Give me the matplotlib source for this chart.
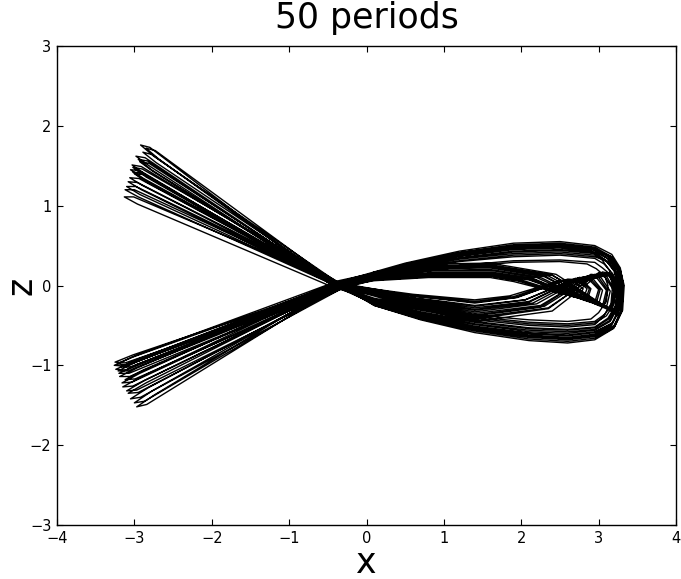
import matplotlib
matplotlib.use('Agg')
import matplotlib.pyplot as plt
import numpy as np

# ----------------------------------------------------------------------------------------------------------------------
# trajectory in the (x, z) plane, one list pair per period
# each period: crossing -> outer lower arc -> right end -> outer upper arc -> crossing -> lower-left tip
#              -> crossing -> twisted inner loop -> crossing -> upper-left tip
# ----------------------------------------------------------------------------------------------------------------------

x_p01 = [-0.37, 0.10, 0.70, 1.40, 2.10, 2.60, 2.95, 3.18, 3.28, 3.30, 3.26, 3.15, 2.95, 2.50, 1.90, 1.20, 0.50, -0.33, -2.95, -3.18, -3.05, -0.40, 0.10, 0.80, 1.60, 2.15, 2.80, 3.05, 3.10, 2.98, 2.75, 2.10, 1.40, 0.60, -0.42, -2.85, -3.02, -2.90]
z_p01 = [0.00, -0.22, -0.37, -0.51, -0.60, -0.62, -0.58, -0.47, -0.28, 0.00, 0.20, 0.35, 0.45, 0.50, 0.48, 0.39, 0.25, 0.03, -0.92, -1.02, -1.02, -0.04, 0.10, 0.16, 0.17, 0.09, -0.18, -0.26, -0.06, 0.09, 0.10, -0.21, -0.30, -0.18, 0.02, 1.36, 1.48, 1.46]

x_p02 = [-0.34, 0.10, 0.70, 1.40, 2.10, 2.60, 2.95, 3.20, 3.30, 3.32, 3.28, 3.17, 2.95, 2.50, 1.90, 1.20, 0.50, -0.30, -2.74, -2.97, -2.84, -0.37, 0.10, 0.80, 1.60, 2.40, 3.05, 3.20, 3.25, 3.13, 3.00, 2.35, 1.40, 0.60, -0.39, -2.75, -2.92, -2.80]
z_p02 = [0.03, -0.25, -0.42, -0.57, -0.67, -0.70, -0.66, -0.53, -0.32, 0.00, 0.22, 0.39, 0.50, 0.55, 0.53, 0.43, 0.28, 0.06, -1.37, -1.52, -1.49, -0.01, 0.15, 0.24, 0.25, 0.13, -0.24, -0.34, -0.08, 0.13, 0.15, -0.28, -0.40, -0.24, 0.05, 1.62, 1.76, 1.73]

x_p03 = [-0.41, 0.10, 0.70, 1.40, 2.10, 2.60, 2.95, 3.08, 3.18, 3.20, 3.16, 3.05, 2.95, 2.50, 1.90, 1.20, 0.50, -0.37, -3.02, -3.25, -3.12, -0.44, 0.10, 0.80, 1.60, 1.95, 2.60, 2.80, 2.85, 2.73, 2.55, 1.90, 1.40, 0.60, -0.46, -2.96, -3.13, -3.01]
z_p03 = [-0.03, -0.17, -0.29, -0.39, -0.46, -0.48, -0.45, -0.36, -0.22, 0.00, 0.13, 0.22, 0.29, 0.32, 0.31, 0.25, 0.16, 0.00, -0.87, -0.96, -0.97, -0.07, 0.07, 0.11, 0.12, 0.06, -0.12, -0.17, -0.04, 0.06, 0.07, -0.14, -0.20, -0.12, -0.01, 1.02, 1.11, 1.11]

x_p04 = [-0.36, 0.10, 0.70, 1.40, 2.10, 2.60, 2.95, 3.16, 3.26, 3.28, 3.24, 3.13, 2.95, 2.50, 1.90, 1.20, 0.50, -0.32, -2.92, -3.15, -3.02, -0.39, 0.10, 0.80, 1.60, 2.30, 2.95, 3.15, 3.20, 3.08, 2.90, 2.25, 1.40, 0.60, -0.41, -2.72, -2.89, -2.77]
z_p04 = [0.02, -0.23, -0.40, -0.54, -0.63, -0.66, -0.62, -0.50, -0.30, 0.00, 0.21, 0.36, 0.47, 0.52, 0.50, 0.41, 0.26, 0.05, -1.15, -1.27, -1.26, -0.02, 0.13, 0.21, 0.22, 0.11, -0.21, -0.30, -0.07, 0.11, 0.13, -0.25, -0.35, -0.21, 0.04, 1.54, 1.67, 1.64]

x_p05 = [-0.39, 0.10, 0.70, 1.40, 2.10, 2.60, 2.95, 3.13, 3.23, 3.25, 3.21, 3.10, 2.95, 2.50, 1.90, 1.20, 0.50, -0.35, -2.97, -3.20, -3.07, -0.42, 0.10, 0.80, 1.60, 2.10, 2.75, 2.95, 3.00, 2.88, 2.70, 2.05, 1.40, 0.60, -0.44, -2.86, -3.03, -2.91]
z_p05 = [-0.01, -0.20, -0.34, -0.46, -0.54, -0.56, -0.53, -0.42, -0.25, 0.00, 0.18, 0.31, 0.40, 0.44, 0.42, 0.34, 0.22, 0.02, -0.99, -1.10, -1.10, -0.05, 0.08, 0.13, 0.14, 0.07, -0.15, -0.21, -0.05, 0.07, 0.08, -0.18, -0.25, -0.15, 0.01, 1.39, 1.51, 1.49]

x_p06 = [-0.33, 0.10, 0.70, 1.40, 2.10, 2.60, 2.95, 3.21, 3.31, 3.33, 3.29, 3.18, 2.95, 2.50, 1.90, 1.20, 0.50, -0.29, -2.82, -3.05, -2.92, -0.36, 0.10, 0.80, 1.60, 2.45, 3.10, 3.25, 3.30, 3.18, 3.05, 2.40, 1.40, 0.60, -0.38, -2.93, -3.10, -2.98]
z_p06 = [-0.02, -0.24, -0.41, -0.56, -0.65, -0.68, -0.64, -0.51, -0.31, 0.00, 0.16, 0.28, 0.36, 0.40, 0.38, 0.31, 0.20, 0.01, -1.28, -1.42, -1.40, -0.06, 0.17, 0.27, 0.28, 0.14, -0.27, -0.38, -0.09, 0.14, 0.17, -0.32, -0.45, -0.27, 0.00, 1.14, 1.24, 1.24]

x_p07 = [-0.40, 0.10, 0.70, 1.40, 2.10, 2.60, 2.95, 3.06, 3.16, 3.18, 3.14, 3.03, 2.90, 2.50, 1.90, 1.20, 0.50, -0.36, -2.99, -3.22, -3.09, -0.43, 0.10, 0.80, 1.60, 2.00, 2.65, 2.85, 2.90, 2.78, 2.60, 1.95, 1.40, 0.60, -0.45, -2.83, -3.00, -2.88]
z_p07 = [0.03, -0.18, -0.31, -0.43, -0.50, -0.52, -0.49, -0.39, -0.23, 0.00, 0.19, 0.34, 0.43, 0.48, 0.46, 0.37, 0.24, 0.06, -0.88, -0.98, -1.00, -0.01, 0.08, 0.12, 0.13, 0.07, -0.13, -0.19, -0.04, 0.07, 0.08, -0.15, -0.22, -0.13, 0.05, 1.29, 1.40, 1.39]

x_p08 = [-0.37, 0.10, 0.70, 1.40, 2.10, 2.60, 2.95, 3.18, 3.28, 3.30, 3.26, 3.15, 2.95, 2.50, 1.90, 1.20, 0.50, -0.33, -2.89, -3.12, -2.99, -0.40, 0.10, 0.80, 1.60, 2.25, 2.90, 3.10, 3.15, 3.03, 2.85, 2.20, 1.40, 0.60, -0.42, -2.78, -2.95, -2.83]
z_p08 = [-0.02, -0.22, -0.38, -0.52, -0.60, -0.63, -0.59, -0.47, -0.28, 0.00, 0.21, 0.37, 0.48, 0.53, 0.51, 0.41, 0.27, 0.01, -1.06, -1.18, -1.17, -0.06, 0.12, 0.19, 0.20, 0.10, -0.20, -0.28, -0.07, 0.10, 0.12, -0.23, -0.33, -0.20, 0.00, 1.45, 1.58, 1.56]

x_p09 = [-0.42, 0.10, 0.70, 1.40, 2.10, 2.60, 2.90, 3.00, 3.10, 3.12, 3.08, 2.97, 2.85, 2.50, 1.90, 1.20, 0.50, -0.38, -3.01, -3.24, -3.11, -0.45, 0.10, 0.80, 1.60, 1.90, 2.55, 2.75, 2.80, 2.68, 2.50, 1.85, 1.40, 0.60, -0.47, -2.91, -3.08, -2.96]
z_p09 = [0.01, -0.16, -0.27, -0.37, -0.43, -0.45, -0.42, -0.34, -0.20, 0.00, 0.12, 0.21, 0.27, 0.30, 0.29, 0.23, 0.15, 0.04, -0.95, -1.05, -1.06, -0.03, 0.06, 0.10, 0.10, 0.05, -0.11, -0.15, -0.04, 0.05, 0.06, -0.13, -0.18, -0.11, 0.03, 1.20, 1.30, 1.29]

x_p10 = [-0.35, 0.10, 0.70, 1.40, 2.10, 2.60, 2.95, 3.19, 3.29, 3.31, 3.27, 3.16, 2.95, 2.50, 1.90, 1.20, 0.50, -0.31, -2.77, -3.00, -2.87, -0.38, 0.10, 0.80, 1.60, 2.40, 3.05, 3.23, 3.28, 3.16, 3.00, 2.35, 1.40, 0.60, -0.40, -2.68, -2.85, -2.73]
z_p10 = [0.00, -0.25, -0.43, -0.59, -0.69, -0.72, -0.68, -0.54, -0.32, 0.00, 0.20, 0.35, 0.45, 0.50, 0.48, 0.39, 0.25, 0.03, -1.32, -1.47, -1.45, -0.04, 0.16, 0.25, 0.26, 0.13, -0.25, -0.36, -0.08, 0.13, 0.16, -0.29, -0.42, -0.25, 0.02, 1.58, 1.72, 1.69]

x_p11 = [-0.38, 0.10, 0.70, 1.40, 2.10, 2.60, 2.95, 3.15, 3.25, 3.27, 3.23, 3.12, 2.95, 2.50, 1.90, 1.20, 0.50, -0.34, -2.96, -3.19, -3.06, -0.41, 0.10, 0.80, 1.60, 2.15, 2.80, 3.00, 3.05, 2.93, 2.75, 2.10, 1.40, 0.60, -0.43, -2.88, -3.05, -2.93]
z_p11 = [0.02, -0.21, -0.36, -0.49, -0.58, -0.60, -0.56, -0.45, -0.27, 0.00, 0.17, 0.29, 0.38, 0.42, 0.40, 0.33, 0.21, 0.05, -1.03, -1.14, -1.14, -0.02, 0.10, 0.15, 0.16, 0.08, -0.17, -0.24, -0.06, 0.08, 0.10, -0.20, -0.28, -0.17, 0.04, 1.34, 1.45, 1.44]

x_p12 = [-0.36, 0.10, 0.70, 1.40, 2.10, 2.60, 2.95, 3.17, 3.27, 3.29, 3.25, 3.14, 2.95, 2.50, 1.90, 1.20, 0.50, -0.32, -2.87, -3.10, -2.97, -0.39, 0.10, 0.80, 1.60, 2.30, 2.95, 3.17, 3.22, 3.10, 2.90, 2.25, 1.40, 0.60, -0.41, -2.81, -2.98, -2.86]
z_p12 = [-0.03, -0.23, -0.39, -0.53, -0.62, -0.65, -0.61, -0.49, -0.29, 0.00, 0.19, 0.33, 0.42, 0.47, 0.45, 0.37, 0.24, 0.00, -1.19, -1.32, -1.31, -0.07, 0.14, 0.22, 0.23, 0.12, -0.23, -0.32, -0.08, 0.12, 0.14, -0.27, -0.38, -0.23, -0.01, 1.50, 1.62, 1.60]

x_p13 = [-0.40, 0.10, 0.70, 1.40, 2.10, 2.60, 2.95, 3.10, 3.20, 3.22, 3.18, 3.07, 2.95, 2.50, 1.90, 1.20, 0.50, -0.36, -3.03, -3.26, -3.13, -0.43, 0.10, 0.80, 1.60, 1.98, 2.63, 2.83, 2.88, 2.76, 2.58, 1.93, 1.40, 0.60, -0.45, -2.95, -3.12, -3.00]
z_p13 = [0.00, -0.18, -0.30, -0.41, -0.48, -0.50, -0.47, -0.38, -0.23, 0.00, 0.15, 0.27, 0.34, 0.38, 0.36, 0.30, 0.19, 0.03, -0.90, -1.00, -1.01, -0.04, 0.07, 0.11, 0.12, 0.06, -0.13, -0.18, -0.04, 0.06, 0.07, -0.15, -0.21, -0.13, 0.02, 1.11, 1.20, 1.20]

x_p14 = [-0.37, 0.10, 0.70, 1.40, 2.10, 2.60, 2.95, 3.14, 3.24, 3.26, 3.22, 3.11, 2.95, 2.50, 1.90, 1.20, 0.50, -0.33, -2.93, -3.16, -3.03, -0.40, 0.10, 0.80, 1.60, 2.20, 2.85, 3.07, 3.12, 3.00, 2.80, 2.15, 1.40, 0.60, -0.42, -2.85, -3.02, -2.90]
z_p14 = [0.02, -0.20, -0.35, -0.48, -0.56, -0.58, -0.55, -0.44, -0.26, 0.00, 0.20, 0.34, 0.44, 0.49, 0.47, 0.38, 0.25, 0.05, -1.10, -1.22, -1.21, -0.02, 0.11, 0.18, 0.19, 0.10, -0.19, -0.26, -0.06, 0.10, 0.11, -0.22, -0.31, -0.19, 0.04, 1.31, 1.42, 1.41]

x_p15 = [-0.35, 0.10, 0.70, 1.40, 2.10, 2.60, 2.95, 3.20, 3.30, 3.32, 3.28, 3.17, 2.95, 2.50, 1.90, 1.20, 0.50, -0.31, -2.85, -3.08, -2.95, -0.38, 0.10, 0.80, 1.60, 2.35, 3.00, 3.21, 3.26, 3.14, 2.95, 2.30, 1.40, 0.60, -0.40, -2.76, -2.93, -2.81]
z_p15 = [-0.01, -0.23, -0.40, -0.55, -0.64, -0.67, -0.63, -0.50, -0.30, 0.00, 0.20, 0.36, 0.46, 0.51, 0.49, 0.40, 0.26, 0.02, -1.22, -1.35, -1.34, -0.05, 0.14, 0.23, 0.24, 0.12, -0.22, -0.31, -0.07, 0.12, 0.14, -0.26, -0.37, -0.22, 0.01, 1.43, 1.55, 1.53]

x_p16 = [-0.39, 0.10, 0.70, 1.40, 2.10, 2.60, 2.95, 3.12, 3.22, 3.24, 3.20, 3.09, 2.95, 2.50, 1.90, 1.20, 0.50, -0.35, -2.98, -3.21, -3.08, -0.42, 0.10, 0.80, 1.60, 2.10, 2.75, 2.97, 3.02, 2.90, 2.70, 2.05, 1.40, 0.60, -0.44, -2.89, -3.06, -2.94]
z_p16 = [0.01, -0.19, -0.33, -0.45, -0.53, -0.55, -0.52, -0.41, -0.25, 0.00, 0.18, 0.32, 0.41, 0.45, 0.43, 0.35, 0.23, 0.04, -0.96, -1.07, -1.07, -0.03, 0.09, 0.14, 0.15, 0.08, -0.16, -0.22, -0.05, 0.08, 0.09, -0.18, -0.26, -0.16, 0.03, 1.25, 1.35, 1.34]

periods_x = [x_p01, x_p02, x_p03, x_p04, x_p05, x_p06, x_p07, x_p08,
             x_p09, x_p10, x_p11, x_p12, x_p13, x_p14, x_p15, x_p16]
periods_z = [z_p01, z_p02, z_p03, z_p04, z_p05, z_p06, z_p07, z_p08,
             z_p09, z_p10, z_p11, z_p12, z_p13, z_p14, z_p15, z_p16]

x_ticks = [-4, -3, -2, -1, 0, 1, 2, 3, 4]
z_ticks = [-3, -2, -1, 0, 1, 2, 3]
title   = '50 periods'

# ----------------------------------------------------------------------------------------------------------------------

x_path = np.concatenate(periods_x + [x_p01[:1]])
z_path = np.concatenate(periods_z + [z_p01[:1]])

fig = plt.figure(figsize = (6.81, 5.79), dpi = 100)
ax  = fig.add_axes([57 / 681, 54 / 579, 619 / 681, 479 / 579])

ax.plot(x_path, z_path, color = 'black', linewidth = 1.0)

ax.set_xlim(x_ticks[0], x_ticks[-1])
ax.set_ylim(z_ticks[0], z_ticks[-1])
ax.set_xticks(x_ticks)
ax.set_yticks(z_ticks)
ax.tick_params(direction = 'in', top = True, right = True, length = 4.5, width = 0.8,
               labelsize = 10.5, pad = 4)
for spine in ax.spines.values():
    spine.set_linewidth(1.0)

ax.set_title(title, fontsize = 25, pad = 13)
ax.set_xlabel('x', fontsize = 25, labelpad = 0)
ax.set_ylabel('z', fontsize = 25, labelpad = -6)

fig.savefig('out.png', dpi = 100)
